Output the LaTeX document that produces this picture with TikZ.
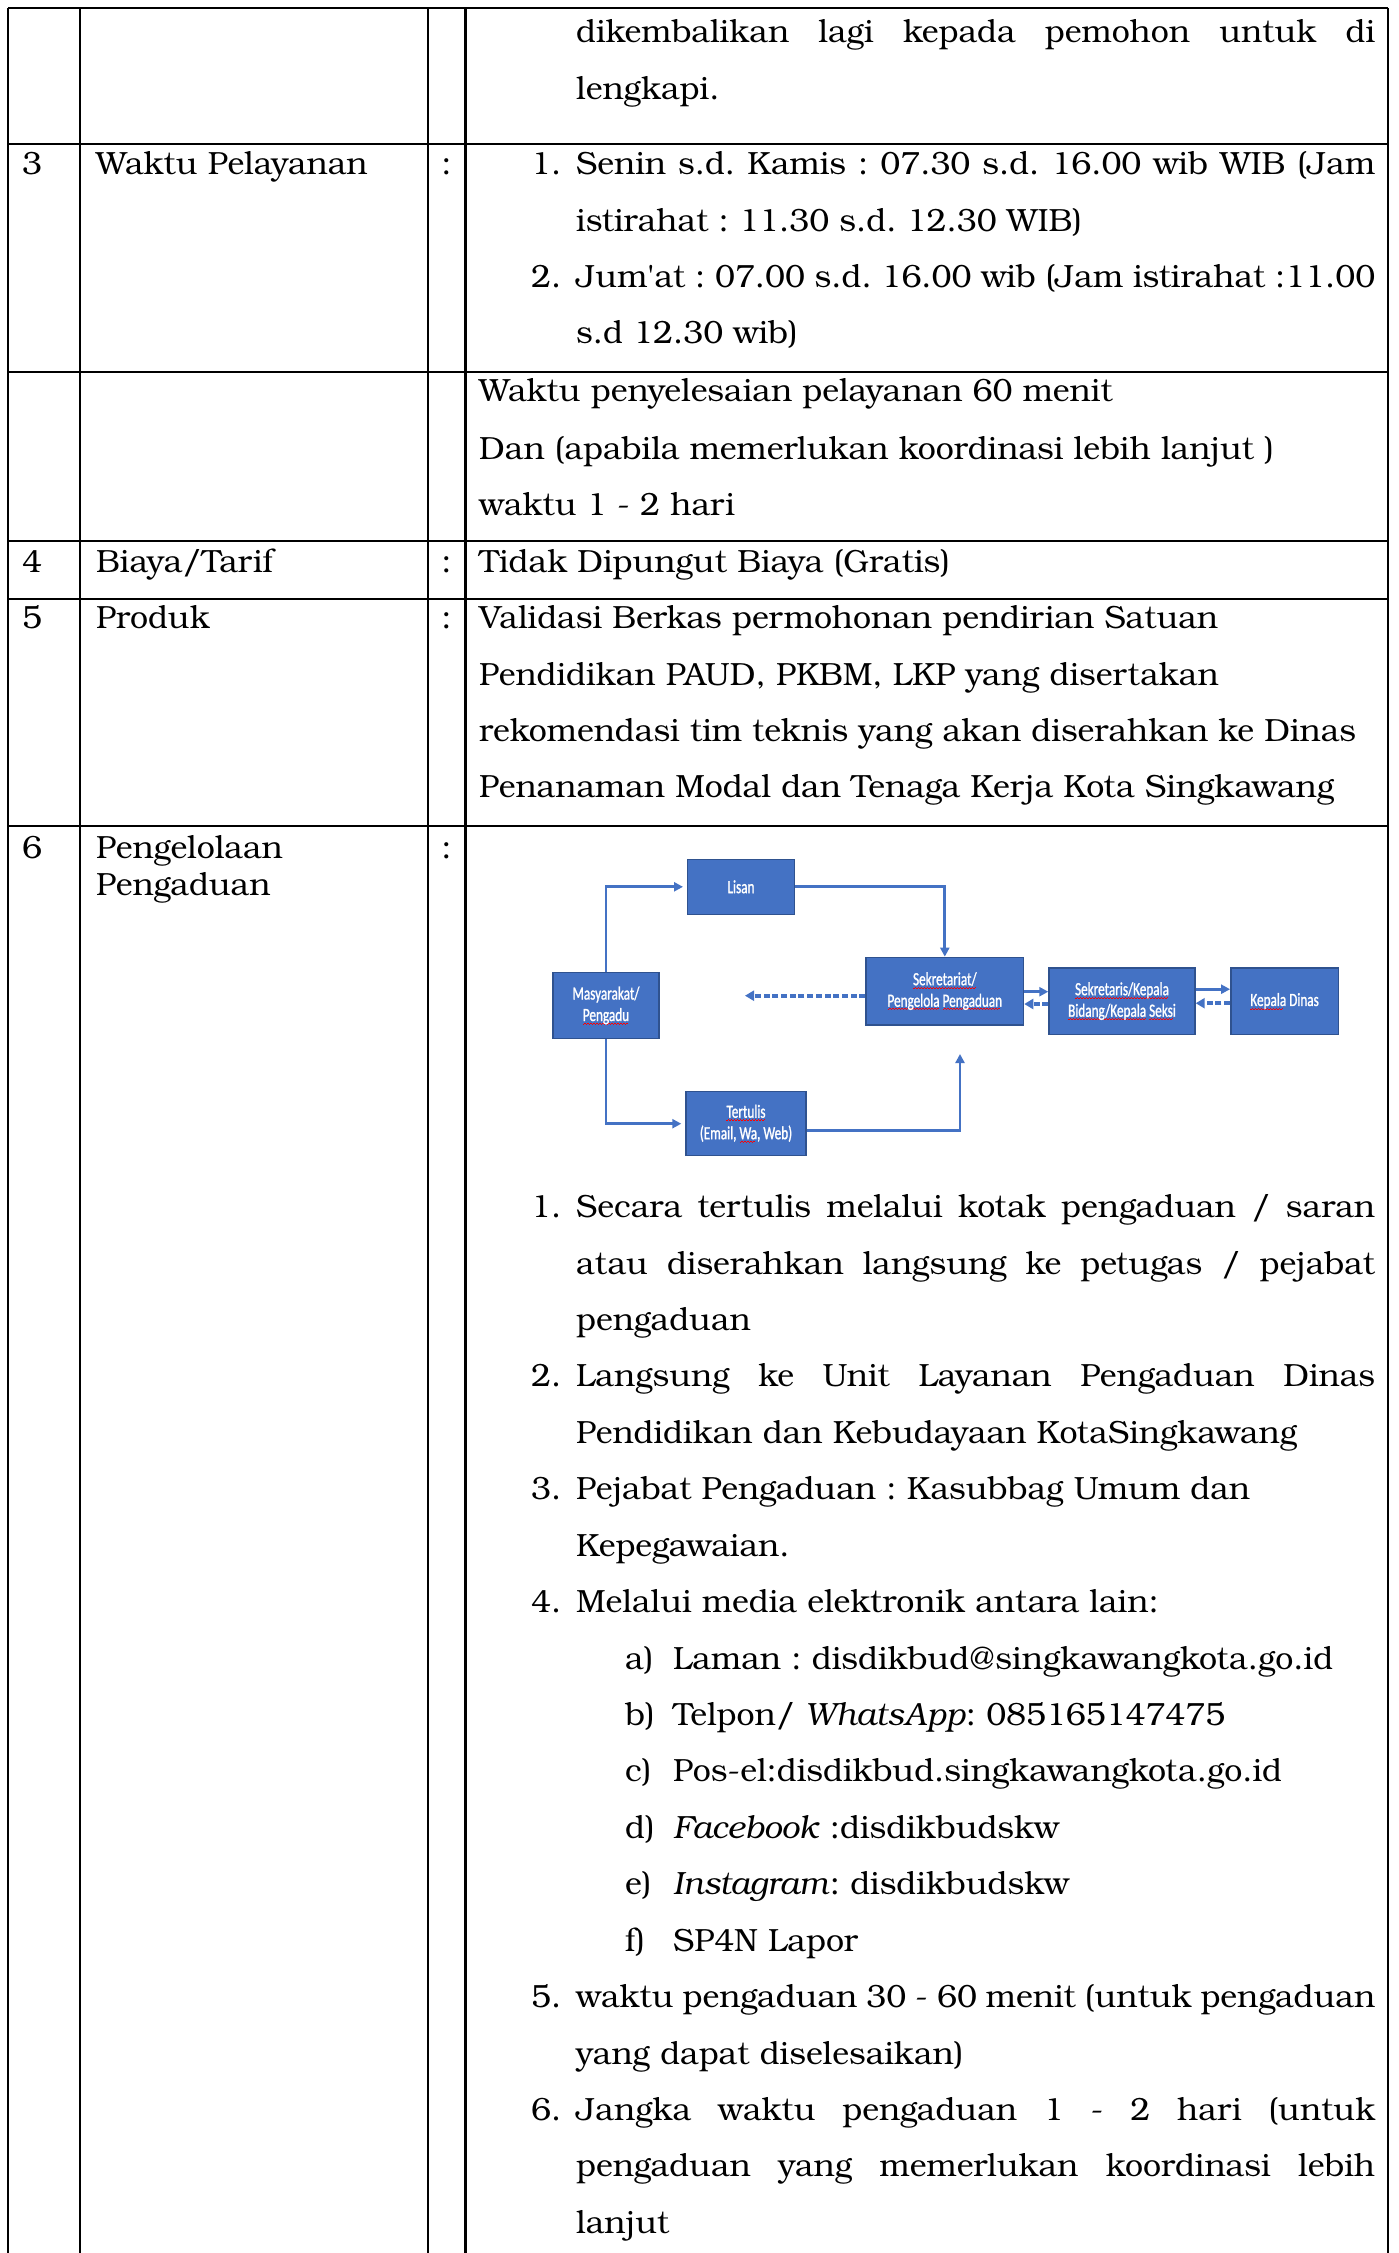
\documentclass[tikz,border=0pt]{standalone}
\usepackage{fontspec}
\setmainfont{texgyrebonum}[Extension=.otf,UprightFont=*-regular,ItalicFont=*-italic,BoldFont=*-bold,BoldItalicFont=*-bolditalic]
\newfontfamily\boxfont{Carlito}[FakeStretch=0.71,FakeBold=1.2]
\usetikzlibrary{arrows.meta}
\newcommand\wavebit{\textcolor{red}{\rule[-3.4pt]{1.5pt}{0.8pt}\rule[-2.4pt]{1.5pt}{0.8pt}}}
\newcommand\sq[1]{\sbox0{#1}\rlap{\leaders\hbox{\wavebit}\hskip\wd0}\usebox0}
\newcommand\msz{\fontsize{32.1pt}{36pt}\selectfont\frenchspacing}
\newcommand\jl[1]{\makebox[799pt][s]{#1}}
\definecolor{ofblue}{RGB}{68,114,196}
\definecolor{ofedge}{RGB}{47,82,143}
\tikzset{
  grid/.style={line width=2.2pt,black},
  txt/.style={anchor=base west,inner sep=0pt,font=\msz},
  ctxt/.style={anchor=base,inner sep=0pt,font=\msz},
  fbox/.style={draw=ofedge,line width=1.4pt,fill=ofblue,text=white,align=center,inner sep=1pt,
    font=\boxfont\fontsize{18.6pt}{21.5pt}\selectfont},
  arr/.style={draw=ofblue,line width=2.7pt,-{Triangle[length=9pt,width=9pt]}},
  darr/.style={draw=ofblue,line width=4pt,dash pattern=on 6pt off 2.7pt,-{Triangle[length=9pt,width=10pt]}}
}
\begin{document}
\begin{tikzpicture}[x=1pt,y=-1pt]
\useasboundingbox (0,0) rectangle (1398,2253);
% table grid
\draw[grid] (8,8) -- (1388,8);
\draw[grid] (8,144) -- (1388,144);
\draw[grid] (8,372) -- (1388,372);
\draw[grid] (8,541) -- (1388,541);
\draw[grid] (8,599) -- (1388,599);
\draw[grid] (8,826) -- (1388,826);
\draw[grid] (8,8) -- (8,2253);
\draw[grid] (80,8) -- (80,2253);
\draw[grid] (428,8) -- (428,2253);
\draw[grid] (465.5,8) -- (465.5,2253);
\draw[grid] (1388,8) -- (1388,2253);

% row (continued)
\node[txt] (a1) at (576,43) {\jl{dikembalikan lagi kepada pemohon untuk di}};
\node[txt] (a2) at (576,99.5) {lengkapi.};

% row 3
\node[txt] (n3) at (22,175) {3};
\node[txt] (l3) at (96,175) {Waktu Pelayanan};
\node[ctxt] (c3) at (446.5,175) {:};
\node[txt] (b31n) at (531,175) {1.};
\node[txt] (b31) at (576,175) {\jl{Senin s.d. Kamis : 07.30 s.d. 16.00 wib WIB (Jam}};
\node[txt] (b31b) at (576,231) {istirahat : 11.30 s.d. 12.30 WIB)};
\node[txt] (b32n) at (531,287.5) {2.};
\node[txt] (b32) at (576,287.5) {\jl{Jum\textquotesingle at : 07.00 s.d. 16.00 wib (Jam istirahat :11.00}};
\node[txt] (b32b) at (576,343.5) {s.d 12.30 wib)};

% row waktu penyelesaian
\node[txt] (w1) at (479,401) {Waktu penyelesaian pelayanan 60 menit};
\node[txt] (w2) at (479,459) {Dan (apabila memerlukan koordinasi lebih lanjut )};
\node[txt] (w3) at (479,515) {waktu 1 - 2 hari};

% row 4
\node[txt] (n4) at (22,572) {4};
\node[txt] (l4) at (96,572) {Biaya/Tarif};
\node[ctxt] (c4) at (446.5,572) {:};
\node[txt] (b4) at (479,572) {Tidak Dipungut Biaya (Gratis)};

% row 5
\node[txt] (n5) at (22,628) {5};
\node[txt] (l5) at (96,628) {Produk};
\node[ctxt] (c5) at (446.5,628) {:};
\node[txt] (p1) at (479,628) {Validasi Berkas permohonan pendirian Satuan};
\node[txt] (p2) at (479,685) {Pendidikan PAUD, PKBM, LKP yang disertakan};
\node[txt] (p3) at (479,741.7) {rekomendasi tim teknis yang akan diserahkan ke Dinas};
\node[txt] (p4) at (479,797) {Penanaman Modal dan Tenaga Kerja Kota Singkawang};

% row 6
\node[txt] (n6) at (22,858) {6};
\node[txt] (l6a) at (96,858) {Pengelolaan};
\node[txt] (l6b) at (96,895) {Pengaduan};
\node[ctxt] (c6) at (446.5,858) {:};

% flowchart
\node[fbox,minimum width=106.6pt,minimum height=55pt] (lisan) at (741,886.8) {Lisan};
\node[fbox,minimum width=106pt,minimum height=65.6pt] (mas) at (606,1005.5) {Masyarakat/\\\sq{Pengadu}};
\node[fbox,minimum width=157.5pt,minimum height=67.7pt] (sek) at (944.8,991.2) {\sq{Sekretariat/}\\\sq{Pengelola} \sq{Pengaduan}};
\node[fbox,minimum width=146pt,minimum height=66.3pt] (sks) at (1122,1001.2) {\sq{Sekretaris/Kepala}\\\sq{Bidang/Kepala} \sq{Seksi}};
\node[fbox,minimum width=107.6pt,minimum height=66.3pt] (kd) at (1284.6,1001.2) {\sq{Kepala} Dinas};
\node[fbox,minimum width=120pt,minimum height=64pt] (tert) at (746,1123.7) {\sq{Tertulis}\\(Email, \sq{Wa}, Web)};
\coordinate (retend) at (745,995.7);
\coordinate (tertend) at (960,1054);

\draw[arr,shorten >=4pt] (mas.north) |- (lisan.west);
\draw[arr] (lisan.east) -| (sek.north);
\draw[arr,shorten >=4pt] (mas.south) |- (tert.west);
\draw[arr] ([yshift=-7pt]tert.east) -| (tertend);
\draw[darr] ([yshift=-4.5pt]sek.west) -- (retend);
\draw[arr] ([yshift=9.5pt]sks.west -| sek.east) -- ([yshift=9.5pt]sks.west);
\draw[darr] ([yshift=-2.8pt]sks.west) -- ([yshift=-2.8pt]sks.west -| sek.east);
\draw[arr] ([yshift=12pt]kd.west -| sks.east) -- ([yshift=12pt]kd.west);
\draw[darr] ([yshift=-2pt]kd.west) -- ([yshift=-2pt]kd.west -| sks.east);

% list
\node[txt] (i1n) at (531,1217.5) {1.};
\node[txt] (i1a) at (576,1217.5) {\jl{Secara tertulis melalui kotak pengaduan / saran}};
\node[txt] (i1b) at (576,1274) {\jl{atau diserahkan langsung ke petugas / pejabat}};
\node[txt] (i1c) at (576,1330.4) {pengaduan};
\node[txt] (i2n) at (531,1386.8) {2.};
\node[txt] (i2a) at (576,1386.8) {\jl{Langsung ke Unit Layanan Pengaduan Dinas}};
\node[txt] (i2b) at (576,1443.2) {Pendidikan dan Kebudayaan KotaSingkawang};
\node[txt] (i3n) at (531,1499.6) {3.};
\node[txt] (i3a) at (576,1499.6) {Pejabat Pengaduan : Kasubbag Umum dan};
\node[txt] (i3b) at (576,1556) {Kepegawaian.};
\node[txt] (i4n) at (531,1612.5) {4.};
\node[txt] (i4a) at (576,1612.5) {Melalui media elektronik antara lain:};
\node[txt] (sa) at (625,1669) {a)};
\node[txt] (sat) at (673,1669) {Laman : disdikbud@singkawangkota.go.id};
\node[txt] (sb) at (625,1725.4) {b)};
\node[txt] (sbt) at (673,1725.4) {Telpon/ \textit{WhatsApp}: 085165147475};
\node[txt] (sc) at (625,1781.8) {c)};
\node[txt] (sct) at (673,1781.8) {Pos-el:disdikbud.singkawangkota.go.id};
\node[txt] (sd) at (625,1838.2) {d)};
\node[txt] (sdt) at (673,1838.2) {\textit{Facebook} :disdikbudskw};
\node[txt] (se) at (625,1894.7) {e)};
\node[txt] (set) at (673,1894.7) {\textit{Instagram}: disdikbudskw};
\node[txt] (sf) at (625,1951) {f)};
\node[txt] (sft) at (673,1951) {SP4N Lapor};
\node[txt] (i5n) at (531,2007.5) {5.};
\node[txt] (i5a) at (576,2007.5) {\jl{waktu pengaduan 30 - 60 menit (untuk pengaduan}};
\node[txt] (i5b) at (576,2064) {yang dapat diselesaikan)};
\node[txt] (i6n) at (531,2120.4) {6.};
\node[txt] (i6a) at (576,2120.4) {\jl{Jangka waktu pengaduan 1 - 2 hari (untuk}};
\node[txt] (i6b) at (576,2176.8) {\jl{pengaduan yang memerlukan koordinasi lebih}};
\node[txt] (i6c) at (576,2233.2) {lanjut};
\end{tikzpicture}
\end{document}
